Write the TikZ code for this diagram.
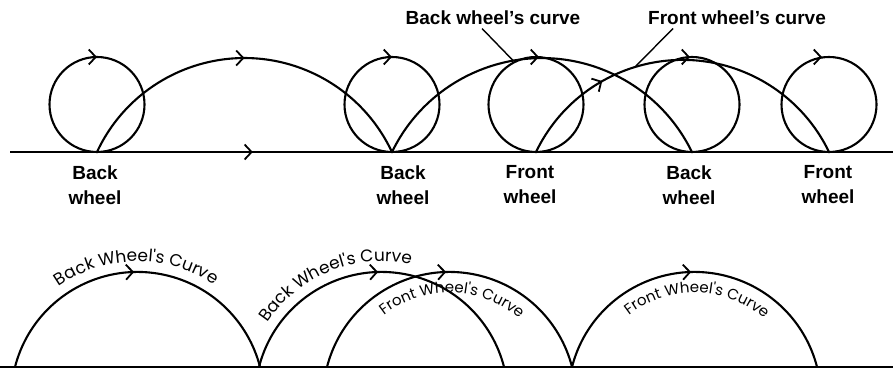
\documentclass[tikz,border=0pt]{standalone}
\usepackage{fontspec}
\setmainfont{Liberation Sans}
\newfontfamily\curvefont{Poppins}
\usepackage{tikz}
\usetikzlibrary{
  arrows.meta,
  positioning,
  decorations.markings,
  decorations.text
}
\tikzset{
  chevron/.tip={
    Straight Barb[length=7pt,width=15pt,line width=1.8pt]
  },
  track/.style={
    line width=2.1pt
  },
  wheel/.style={
    circle,
    draw,
    line width=2.1pt,
    minimum size=95pt,
    inner sep=0pt,
    outer sep=0pt
  },
  wheellabel/.style={
    align=center,
    font=\fontsize{19}{25}\selectfont\bfseries
  },
  curvelabel/.style={
    font=\fontsize{19}{25}\selectfont\bfseries
  },
  leader/.style={
    line width=1.4pt
  },
  arrowat/.style={
    postaction={
      decorate,
      decoration={
        markings,
        mark=at position #1 with {\arrow{chevron}}
      }
    }
  },
  outertext/.style={
    decorate,
    decoration={
      text along path,
      text={|\curvefont\fontsize{17}{17}\selectfont|#1},
      text align=center
    }
  },
  innertext/.style={
    decorate,
    decoration={
      text along path,
      text={|\curvefont\fontsize{15}{15}\selectfont|#1},
      text align=center
    }
  }
}

\begin{document}
\begin{tikzpicture}[x=1pt,y=1pt]

  \useasboundingbox (0,0) rectangle (893,369);

  \coordinate (topstart) at (10,217);
  \coordinate (topend) at (893,217);
  \coordinate (back1) at (97,217);
  \coordinate (back2) at (392,217);
  \coordinate (front1) at (536,217);
  \coordinate (back3) at (692,217);
  \coordinate (front2) at (829,217);

  \draw[track, arrowat=0.275]
  (topstart) --
  (topend);

  \node[wheel, above=0pt of back1] (wheel1) {};
  \node[wheel, above=0pt of back2] (wheel2) {};
  \node[wheel, above=0pt of front1] (wheel3) {};
  \node[wheel, above=0pt of back3] (wheel4) {};
  \node[wheel, above=0pt of front2] (wheel5) {};

  \foreach \w/\s in {wheel1/0,wheel2/0,wheel3/3,wheel4/-2,wheel5/-7} {
    \draw[track, -chevron]
    ([xshift=\s pt-3pt]\w.north) --
    ([xshift=\s pt]\w.north);
  }

  \draw[track, arrowat=0.5]
  (back1) arc[start angle=155, end angle=25, radius=162.7];

  \draw[track]
  (back2) arc[start angle=154.1, end angle=25.9, radius=166.7];

  \draw[track, arrowat=0.27]
  (front1) arc[start angle=154.3, end angle=25.7, radius=162.6];

  \node[
    curvelabel
  ] at (493,351) (backlabel) {
    Back wheel's curve
  };

  \node[
    curvelabel
  ] at (737,351) (frontlabel) {
    Front wheel's curve
  };

  \coordinate (backpoint) at (513,308.5);
  \coordinate (frontpoint) at (635,302);

  \draw[leader]
  ([xshift=-11pt]backlabel.south) --
  (backpoint);

  \draw[leader]
  ([xshift=-64pt]frontlabel.south) --
  (frontpoint);

  \node[wheellabel] at (95,184) (label1) {Back\\wheel};
  \node[wheellabel] at (403,184) (label2) {Back\\wheel};
  \node[wheellabel] at (530,184) (label3) {Front\\wheel};
  \node[wheellabel] at (689,184) (label4) {Back\\wheel};
  \node[wheellabel] at (828,184) (label5) {Front\\wheel};

  \coordinate (lowstart) at (0,2);
  \coordinate (lowend) at (893,2);
  \coordinate (lowback1) at (15,2);
  \coordinate (lowback2) at (259,2);
  \coordinate (lowfront1) at (327,2);
  \coordinate (lowfront2) at (572,2);

  \draw[track]
  (lowstart) --
  (lowend);

  \foreach \c in {lowback1,lowback2,lowfront1,lowfront2} {
    \draw[track, arrowat=0.49]
    (\c) arc[start angle=165.6, end angle=14.4, radius=126.5];
    \path (\c) ++(122.5,-31.5) coordinate (\c-mid);
  }

  \path[outertext={Back Wheel's Curve}]
  ([shift={(150:137)}]lowback1-mid) arc[start angle=150, end angle=31, radius=137];

  \path[outertext={Back Wheel's Curve}]
  ([shift={(168:137)}]lowback2-mid) arc[start angle=168, end angle=56, radius=137];

  \path[innertext={Front Wheel's Curve}]
  ([shift={(155:106)}]lowfront1-mid) arc[start angle=155, end angle=22, radius=106];

  \path[innertext={Front Wheel's Curve}]
  ([shift={(155:106)}]lowfront2-mid) arc[start angle=155, end angle=22, radius=106];

\end{tikzpicture}
\end{document}
